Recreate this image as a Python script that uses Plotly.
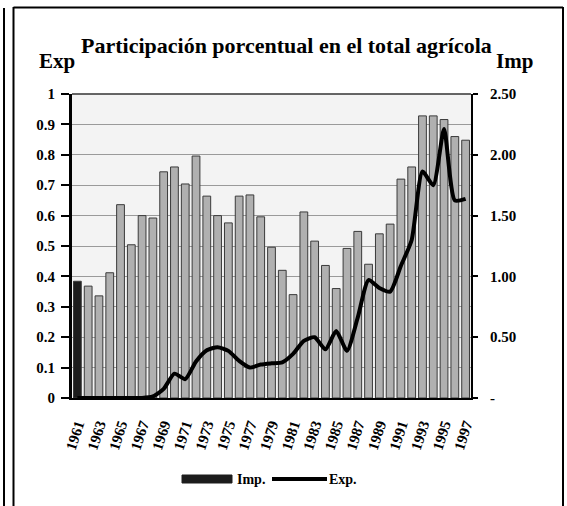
import plotly.graph_objects as go

# ---- data ----
years = list(range(1961, 1998))
imp_values = [0.96, 0.92, 0.84, 1.03, 1.59, 1.26, 1.50, 1.48, 1.86, 1.90,
              1.76, 1.99, 1.66, 1.50, 1.44, 1.66, 1.67, 1.49, 1.24, 1.05,
              0.85, 1.53, 1.29, 1.09, 0.90, 1.23, 1.37, 1.10, 1.35, 1.43,
              1.80, 1.90, 2.32, 2.32, 2.29, 2.15, 2.12]
exp_values = [0, 0, 0, 0, 0, 0, 0, 0.005, 0.03, 0.08,
              0.062, 0.12, 0.157, 0.167, 0.155, 0.122, 0.10, 0.11, 0.114, 0.117,
              0.145, 0.188, 0.20, 0.16, 0.22, 0.155, 0.265, 0.388, 0.362, 0.35,
              0.435, 0.52, 0.745, 0.70, 0.885, 0.65, 0.655]
x_tick_years = list(range(1961, 1998, 2))
left_ticks = [0, 0.1, 0.2, 0.3, 0.4, 0.5, 0.6, 0.7, 0.8, 0.9, 1]
left_labels = ["0", "0.1", "0.2", "0.3", "0.4", "0.5", "0.6", "0.7", "0.8", "0.9", "1"]
right_ticks = [0, 0.5, 1.0, 1.5, 2.0, 2.5]
right_labels = ["-", "0.50", "1.00", "1.50", "2.00", "2.50"]

title_text = "Participación porcentual en el total agrícola"

# ---- geometry ----
W, H = 567, 506
L, R, T, B = 72, 471, 94, 398
PW, PH = R - L, B - T

def px(x):
    return (x - L) / PW

def py(y):
    return (B - y) / PH

FONT = "Liberation Serif"

bar_colors = ["#1c1c1c"] + ["#b0b0b0"] * (len(years) - 1)

fig = go.Figure()
fig.add_trace(go.Bar(
    x=years, y=imp_values, yaxis="y", name="Imp.",
    width=0.72,
    marker=dict(color=bar_colors, line=dict(color="#3a3a3a", width=1)),
    showlegend=False,
))
fig.add_trace(go.Scatter(
    x=years, y=exp_values, yaxis="y2", name="Exp.", mode="lines",
    line=dict(color="black", width=4, shape="spline", smoothing=0.6),
    showlegend=False,
))

tickfont = dict(family=FONT, size=15, color="black", weight="bold")

fig.update_layout(
    width=W, height=H, autosize=False,
    margin=dict(l=L, r=W - R, t=T, b=H - B, pad=0),
    paper_bgcolor="white",
    plot_bgcolor="#f3f3f3",
    bargap=0.3,
    xaxis=dict(
        range=[1960.5, 1997.5], tickvals=x_tick_years,
        ticktext=[str(y) for y in x_tick_years],
        tickangle=-72, tickfont=tickfont,
        showline=True, linecolor="black", linewidth=2,
        showgrid=False, zeroline=False, ticks="",
        ticklabelstandoff=10,
    ),
    yaxis=dict(
        side="right", range=[0, 2.5], tickvals=right_ticks, ticktext=right_labels,
        tickfont=tickfont, showgrid=False, zeroline=False,
        showline=True, linecolor="black", linewidth=2,
        ticks="outside", ticklen=5, tickwidth=1.5, tickcolor="black",
        ticklabelstandoff=9,
    ),
    yaxis2=dict(
        overlaying="y", side="left", range=[0, 1], tickvals=left_ticks,
        ticktext=left_labels, tickfont=tickfont,
        showgrid=True, gridcolor="#9a9a9a", gridwidth=1, zeroline=False,
        showline=True, linecolor="black", linewidth=3,
        ticks="outside", ticklen=8, tickwidth=1.5, tickcolor="black",
        ticklabelstandoff=3,
    ),
)

annotations = [
    dict(x=px(286), y=py(46), text=title_text, showarrow=False,
         xanchor="center", yanchor="middle",
         font=dict(family=FONT, size=22, color="black", weight="bold")),
    dict(x=px(57), y=py(61), text="Exp", showarrow=False,
         xanchor="center", yanchor="middle",
         font=dict(family=FONT, size=21, color="black", weight="bold")),
    dict(x=px(514), y=py(61), text="Imp", showarrow=False,
         xanchor="center", yanchor="middle",
         font=dict(family=FONT, size=21, color="black", weight="bold")),
    dict(x=px(235), y=py(479), text="Imp.", showarrow=False,
         xanchor="left", yanchor="middle",
         font=dict(family=FONT, size=14, color="black", weight="bold")),
    dict(x=px(327), y=py(479), text="Exp.", showarrow=False,
         xanchor="left", yanchor="middle",
         font=dict(family=FONT, size=14, color="black", weight="bold")),
]
for a in annotations:
    a["xref"] = "paper"
    a["yref"] = "paper"
fig.update_layout(annotations=annotations)

shapes = [
    # top border of plot area
    dict(type="line", x0=0, x1=1, y0=1, y1=1, line=dict(color="#333", width=1.5)),
    # legend swatches
    dict(type="rect", x0=px(182), x1=px(232), y0=py(483), y1=py(475),
         fillcolor="#1c1c1c", line=dict(color="#1c1c1c", width=1)),
    dict(type="line", x0=px(272), x1=px(327), y0=py(479), y1=py(479),
         line=dict(color="black", width=4)),
    # outer frame
    dict(type="line", x0=px(4), x1=px(4), y0=py(8), y1=py(506), line=dict(color="black", width=2)),
    dict(type="line", x0=px(13.5), x1=px(13.5), y0=py(7), y1=py(506), line=dict(color="black", width=2)),
    dict(type="line", x0=px(13.5), x1=px(563), y0=py(7.5), y1=py(7.5), line=dict(color="black", width=2)),
    dict(type="line", x0=px(563), x1=px(563), y0=py(7), y1=py(506), line=dict(color="black", width=2)),
]
for s in shapes:
    s["xref"] = "paper"
    s["yref"] = "paper"
fig.update_layout(shapes=shapes)

fig.write_html(
    "out.html",
    config={"displayModeBar": False},
    post_script="document.body.style.margin='0px';document.body.style.overflow='hidden';",
)
